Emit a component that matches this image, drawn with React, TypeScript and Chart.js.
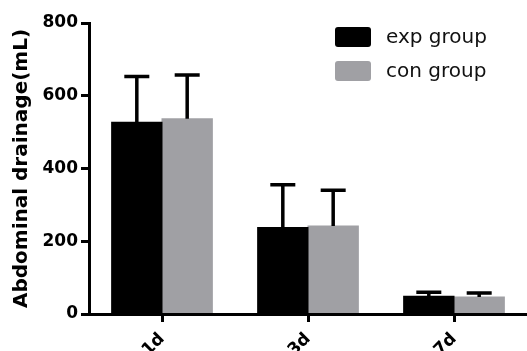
import React, { useEffect, useRef } from 'react';
import { Chart, registerables } from 'chart.js';

Chart.register(...registerables);

const categories = ['1d', '3d', '7d'];
const seriesLabels = ['exp group', 'con group'];
const expMeans = [527, 238, 49];
const expSD = [126, 117, 11];
const conMeans = [537, 242, 47];
const conSD = [120, 98, 11];
const yTicks = [0, 200, 400, 600, 800];
const yTitle = 'Abdominal drainage(mL)';

const FONT = '"DejaVu Sans", sans-serif';
const EXP_COLOR = '#000000';
const CON_COLOR = '#a0a0a4';

const errorBarPlugin = {
  id: 'errorBars',
  afterDatasetsDraw(chart: any) {
    const ctx = chart.ctx;
    const y = chart.scales.y;
    chart.data.datasets.forEach((ds: any, i: number) => {
      const meta = chart.getDatasetMeta(i);
      meta.data.forEach((bar: any, j: number) => {
        const top = y.getPixelForValue(ds.data[j] + ds.errors[j]);
        ctx.save();
        ctx.strokeStyle = '#000';
        ctx.lineWidth = 3.5;
        ctx.lineCap = 'butt';
        ctx.beginPath();
        ctx.moveTo(bar.x, bar.y);
        ctx.lineTo(bar.x, top);
        ctx.moveTo(bar.x - 12.5, top);
        ctx.lineTo(bar.x + 12.5, top);
        ctx.stroke();
        ctx.restore();
      });
    });
  },
};

const legendPlugin = {
  id: 'customLegend',
  afterDraw(chart: any) {
    const ctx = chart.ctx;
    const x0 = 335;
    const y0 = 27;
    const rowGap = 34;
    chart.data.datasets.forEach((ds: any, i: number) => {
      const y = y0 + i * rowGap;
      ctx.save();
      ctx.fillStyle = ds.backgroundColor;
      ctx.beginPath();
      (ctx as any).roundRect(x0, y, 36, 20, 3);
      ctx.fill();
      ctx.fillStyle = '#111';
      ctx.font = '20px ' + FONT;
      ctx.textBaseline = 'alphabetic';
      ctx.textAlign = 'left';
      ctx.fillText(ds.label, x0 + 51, y + 16);
      ctx.restore();
    });
  },
};

export default function App() {
  const ref = useRef<HTMLCanvasElement>(null);
  useEffect(() => {
    const chart = new Chart(ref.current as HTMLCanvasElement, {
      type: 'bar',
      data: {
        labels: categories,
        datasets: [
          {
            label: seriesLabels[0],
            data: expMeans,
            errors: expSD,
            backgroundColor: EXP_COLOR,
            borderWidth: 0,
            borderRadius: 0,
            inflateAmount: 0.5,
            categoryPercentage: 0.69,
            barPercentage: 1,
          } as any,
          {
            label: seriesLabels[1],
            data: conMeans,
            errors: conSD,
            backgroundColor: CON_COLOR,
            borderWidth: 0,
            borderRadius: 0,
            inflateAmount: 0.5,
            categoryPercentage: 0.69,
            barPercentage: 1,
          } as any,
        ],
      },
      options: {
        animation: false,
        responsive: false,
        devicePixelRatio: 1,
        layout: { padding: { top: 23, left: 0, right: 0, bottom: 0 } },
        plugins: {
          legend: { display: false },
          tooltip: { enabled: false },
        },
        scales: {
          x: {
            grid: {
              display: true,
              drawOnChartArea: false,
              drawTicks: true,
              tickLength: 8,
              lineWidth: 3,
              color: '#000',
              offset: false,
            },
            border: { display: true, width: 3, color: '#000' },
            ticks: {
              color: '#000',
              font: { family: FONT, size: 17, weight: 'bold' },
              minRotation: 45,
              maxRotation: 45,
              padding: 7,
            },
            afterFit: (s: any) => {
              s.height = 37;
              s.paddingLeft = 0;
              s.paddingRight = 0;
            },
          },
          y: {
            min: 0,
            max: 800,
            grid: {
              display: true,
              drawOnChartArea: false,
              drawTicks: true,
              tickLength: 8,
              lineWidth: 3,
              color: '#000',
            },
            border: { display: true, width: 3, color: '#000' },
            ticks: {
              color: '#000',
              font: { family: FONT, size: 17, weight: 'bold' },
              padding: 3,
            },
            afterBuildTicks: (s: any) => {
              s.ticks = yTicks.map((v) => ({ value: v }));
            },
            title: {
              display: true,
              text: yTitle,
              color: '#000',
              font: { family: FONT, size: 20, weight: 'bold' },
              padding: { top: 10, bottom: 0 },
            },
            afterFit: (s: any) => {
              s.width = 89;
            },
          },
        },
      } as any,
      plugins: [errorBarPlugin, legendPlugin],
    });
    return () => chart.destroy();
  }, []);
  return (
    <div style={{ position: 'fixed', left: 0, top: 0, width: 527, height: 351, background: '#fff' }}>
      <canvas ref={ref} width={527} height={351} style={{ display: 'block', width: 527, height: 351 }} />
    </div>
  );
}
